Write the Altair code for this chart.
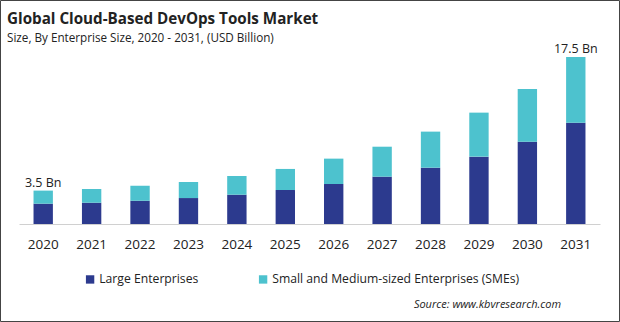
import altair as alt
import pandas as pd

years = [str(y) for y in range(2020, 2032)]
large = [2.13, 2.23, 2.44, 2.72, 3.07, 3.56, 4.19, 4.96, 5.90, 7.06, 8.63, 10.62]
sme = [1.37, 1.44, 1.58, 1.68, 1.96, 2.21, 2.66, 3.14, 3.78, 4.61, 5.52, 6.88]
series = ["Large Enterprises", "Small and Medium-sized Enterprises (SMEs)"]
colors = ["#2C3A8E", "#4DC2CE"]
label_years = ["2020", "2031"]
label_values = [3.5, 17.5]
label_texts = ["3.5 Bn", "17.5 Bn"]

rows = []
for i, y in enumerate(years):
    rows.append({"year": y, "series": series[0], "value": large[i], "ord": 0})
    rows.append({"year": y, "series": series[1], "value": sme[i], "ord": 1})
df = pd.DataFrame(rows)
lab = pd.DataFrame({"year": label_years, "total": label_values, "text": label_texts})

FONT = "Open Sans"

xenc = alt.X("year:N", sort=years, title=None,
             scale=alt.Scale(paddingInner=0.6, paddingOuter=0.3),
             axis=alt.Axis(labelAngle=0, ticks=False, grid=False, domainColor="#d0d0d0",
                           labelFontSize=13.5, labelColor="#222", labelPadding=13, labelFont=FONT))

bars = alt.Chart(df).mark_bar().encode(
    x=xenc,
    y=alt.Y("value:Q", stack="zero", axis=None, scale=alt.Scale(domain=[0, 17.5], nice=False)),
    color=alt.Color("series:N", scale=alt.Scale(domain=series, range=colors),
                    legend=alt.Legend(title=None, orient="none", legendX=65, legendY=216,
                                      direction="horizontal", symbolType="square", symbolSize=70,
                                      labelFontSize=12.2, labelColor="#222", labelFont=FONT,
                                      labelLimit=0, columnPadding=58, symbolStrokeWidth=0,
                                      labelOffset=3)),
    order=alt.Order("ord:Q", sort="ascending"),
)

labels = alt.Chart(lab).mark_text(baseline="alphabetic", dy=-4, fontSize=12.5, color="#222", font=FONT).encode(
    x=alt.X("year:N", sort=years),
    y=alt.Y("total:Q"),
    text="text:N",
)

blank = alt.Data(values=[{}])
title = alt.Chart(blank).mark_text(align="left", baseline="alphabetic", fontSize=15.2, fontWeight="bold",
                                   color="#222", font=FONT).encode(
    x=alt.value(-12), y=alt.value(-33), text=alt.value("Global Cloud-Based DevOps Tools Market"))
subtitle = alt.Chart(blank).mark_text(align="left", baseline="alphabetic", fontSize=11.7,
                                      color="#222", font=FONT).encode(
    x=alt.value(-12), y=alt.value(-15), text=alt.value("Size, By Enterprise Size, 2020 - 2031, (USD Billion)"))
source = alt.Chart(blank).mark_text(align="right", baseline="alphabetic", fontSize=11, fontStyle="italic",
                                    color="#222", font=FONT).encode(
    x=alt.value(542), y=alt.value(251), text=alt.value("Source: www.kbvresearch.com"))
border = alt.Chart(blank).mark_rect(fill=None, stroke="#444", strokeWidth=1).encode(
    x=alt.value(-18.5), x2=alt.value(600.5), y=alt.value(-56.5), y2=alt.value(264.5))

chart = alt.layer(bars, labels, title, subtitle, source, border).properties(
    width=581, height=167,
    autosize=alt.AutoSizeParams(type="none"),
    padding={"left": 19, "top": 57, "right": 20, "bottom": 98},
    background="white",
).configure_view(stroke=None)

chart.save("out.html", embed_options={"renderer": "svg", "actions": False})
